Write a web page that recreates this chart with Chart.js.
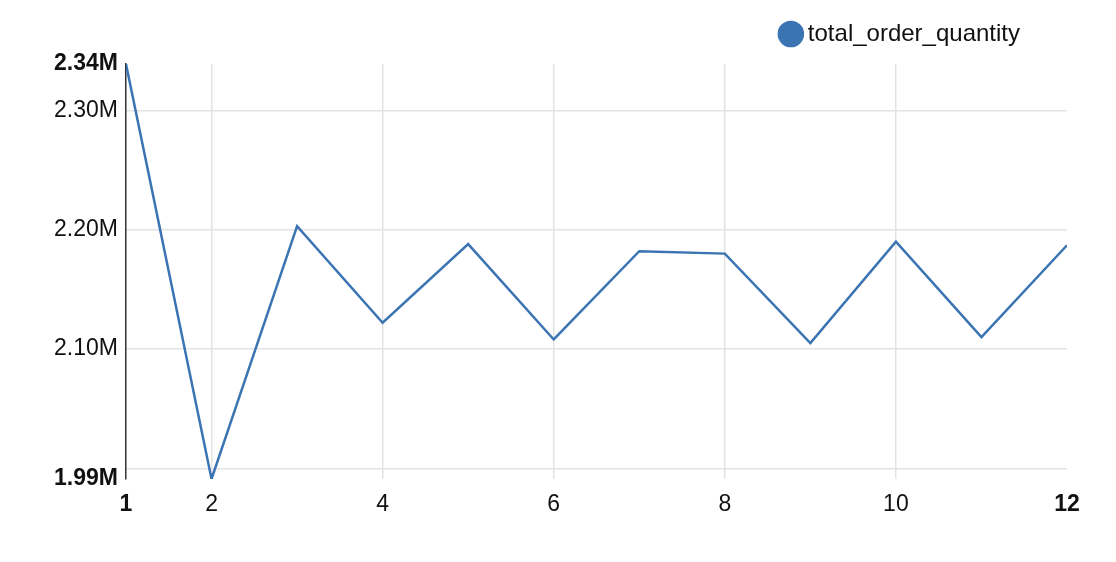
<!DOCTYPE html>
<html>
<head>
<meta charset="utf-8">
<script src="https://cdn.jsdelivr.net/npm/chart.js@4/dist/chart.umd.min.js"></script>
<style>
  html, body { margin: 0; padding: 0; background: #fff; }
  #wrap { width: 1116px; height: 562px; }
</style>
</head>
<body>
<div id="wrap"><canvas id="myChart" width="1116" height="562"></canvas></div>
<script>
const months = [1, 2, 3, 4, 5, 6, 7, 8, 9, 10, 11, 12];
const totalOrderQuantity = [2339000, 1991000, 2203000, 2122000, 2188000, 2108000, 2182000, 2180000, 2105000, 2190000, 2110000, 2187000];
const xTickValues = [1, 2, 4, 6, 8, 10, 12];
const yTickValues = [1991000, 2000000, 2100000, 2200000, 2300000, 2339000];
const yTickLabels = ["1.99M", "", "2.10M", "2.20M", "2.30M", "2.34M"];

const lineColor = "#3b74b3";
const gridColor = "#e3e3e3";
const fontFamily = "'Liberation Sans', Arial, sans-serif";

// first and last tick are bold and have no grid line
const isEdge = (index, count) => index === 0 || index === count - 1;
const edgeFont = (count) => (ctx) => ({
  family: fontFamily,
  size: 23,
  weight: isEdge(ctx.index, count) ? "bold" : "normal",
});
const innerGrid = (count) => (ctx) =>
  isEdge(ctx.index, count) ? "rgba(0,0,0,0)" : gridColor;

const ctx = document.getElementById("myChart");

new Chart(ctx, {
  type: "line",
  data: {
    datasets: [
      {
        label: "total_order_quantity",
        data: months.map((m, i) => ({ x: m, y: totalOrderQuantity[i] })),
        borderColor: lineColor,
        backgroundColor: lineColor,
        borderWidth: 2.5,
        pointRadius: 0,
        pointHoverRadius: 0,
        tension: 0,
        fill: false,
      },
    ],
  },
  options: {
    responsive: false,
    animation: false,
    layout: {
      padding: { top: -25, right: 49, left: 0, bottom: 0 },
    },
    plugins: {
      tooltip: { enabled: false },
      legend: {
        position: "top",
        align: "end",
        labels: {
          usePointStyle: true,
          pointStyle: "circle",
          boxWidth: 10,
          boxHeight: 17,
          padding: 47,
          color: "#111",
          font: { family: fontFamily, size: 24 },
        },
      },
      // empty title used only as a spacer between legend and plot
      title: {
        display: true,
        text: "",
        weight: 500,
        padding: 0,
        font: { size: 8, lineHeight: 1 },
      },
    },
    scales: {
      x: {
        type: "linear",
        min: 1,
        max: 12,
        afterBuildTicks: (scale) => {
          scale.ticks = xTickValues.map((v) => ({ value: v }));
        },
        afterFit: (scale) => {
          scale.height = 83;
        },
        ticks: {
          padding: 12,
          color: "#111",
          maxRotation: 0,
          autoSkip: false,
          font: edgeFont(xTickValues.length),
        },
        grid: {
          color: innerGrid(xTickValues.length),
          lineWidth: 1.5,
          drawTicks: false,
        },
        border: { display: false },
      },
      y: {
        min: yTickValues[0],
        max: yTickValues[yTickValues.length - 1],
        afterBuildTicks: (scale) => {
          scale.ticks = yTickValues.map((v) => ({ value: v }));
        },
        afterFit: (scale) => {
          scale.width = 126;
        },
        ticks: {
          padding: 8,
          color: "#111",
          autoSkip: false,
          font: edgeFont(yTickValues.length),
          callback: (value, index) => yTickLabels[index],
        },
        grid: {
          color: innerGrid(yTickValues.length),
          lineWidth: 1.5,
          drawTicks: false,
        },
        border: { display: true, color: "#333", width: 1.5 },
      },
    },
  },
});
</script>
</body>
</html>
